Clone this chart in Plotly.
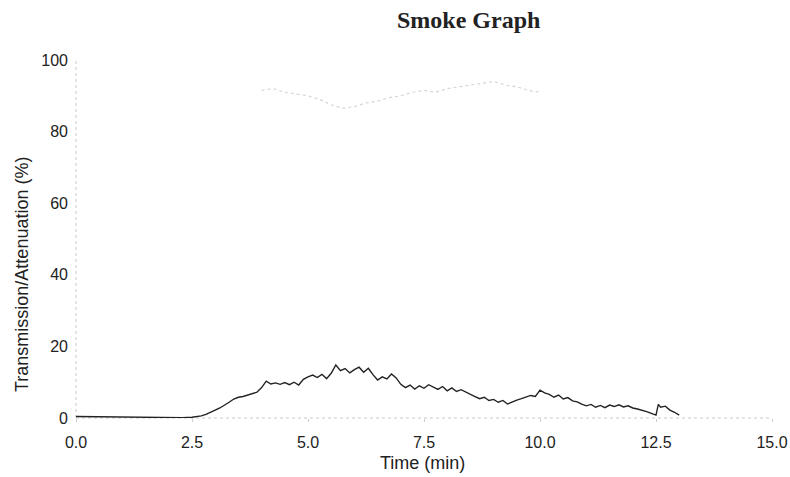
import plotly.graph_objects as go

# Attenuation (smoke) series
att_time = [0.0, 0.5, 1.0, 1.5, 2.0, 2.3,
            2.5, 2.6, 2.7, 2.8, 2.9, 3.0, 3.1, 3.2, 3.3, 3.4, 3.5, 3.6, 3.7, 3.8, 3.9,
            4.0, 4.1, 4.2, 4.3, 4.4, 4.5, 4.6, 4.7, 4.8, 4.9,
            5.0, 5.1, 5.2, 5.3, 5.4, 5.5, 5.6, 5.7, 5.8, 5.9,
            6.0, 6.1, 6.2, 6.3, 6.4, 6.5, 6.6, 6.7, 6.8, 6.9,
            7.0, 7.1, 7.2, 7.3, 7.4, 7.5, 7.6, 7.7, 7.8, 7.9,
            8.0, 8.1, 8.2, 8.3, 8.4, 8.5, 8.6, 8.7, 8.8, 8.9,
            9.0, 9.1, 9.2, 9.3, 9.4, 9.5, 9.6, 9.7, 9.8, 9.9,
            10.0, 10.1, 10.2, 10.3, 10.4, 10.5, 10.6, 10.7, 10.8, 10.9,
            11.0, 11.1, 11.2, 11.3, 11.4, 11.5, 11.6, 11.7, 11.8, 11.9,
            12.0, 12.1, 12.2, 12.3, 12.4, 12.5, 12.55, 12.6, 12.7, 12.8, 12.9, 13.0]
att_value = [0.4, 0.3, 0.2, 0.2, 0.1, 0.1,
             0.2, 0.3, 0.6, 1.0, 1.5, 2.2, 2.8, 3.5, 4.4, 5.3, 5.8, 6.0, 6.4, 7.0, 7.2,
             8.5, 10.3, 9.5, 9.8, 9.4, 9.9, 9.3, 10.0, 9.2, 10.8,
             11.5, 12.0, 11.3, 12.2, 11.0, 12.5, 14.8, 13.2, 13.8, 12.6,
             13.5, 14.2, 12.8, 13.9, 12.1, 10.6, 11.5, 10.9, 12.3, 11.2,
             9.4, 8.5, 9.2, 8.1, 9.0, 8.3, 9.3, 8.6, 8.0, 8.8,
             7.6, 8.4, 7.4, 7.9, 7.2, 6.6, 6.0, 5.4, 5.8, 4.9,
             5.2, 4.4, 4.9, 3.9, 4.5, 5.0, 5.4, 5.9, 6.3, 6.0,
             7.8, 7.0, 6.6, 5.8, 6.4, 5.3, 5.7, 4.8, 4.5, 3.9,
             3.4, 3.8, 3.0, 3.5, 2.9, 3.6, 3.2, 3.7, 3.1, 3.4,
             2.8, 2.5, 2.2, 1.8, 1.3, 0.8, 3.8, 3.0, 3.3, 2.2, 1.6, 0.8]

# Transmission series (very faint dotted line near the top)
trans_time = [4.0, 4.25, 4.5, 4.75, 5.0, 5.25, 5.5, 5.75, 6.0, 6.25, 6.5,
              6.75, 7.0, 7.25, 7.5, 7.75, 8.0, 8.25, 8.5, 8.75, 9.0, 9.25, 9.5, 9.75, 10.0]
trans_value = [91.5, 92.0, 91.0, 90.5, 90.0, 89.0, 87.5, 86.5, 87.0, 88.0, 88.5,
               89.5, 90.0, 91.0, 91.5, 91.0, 92.0, 92.5, 93.0, 93.5, 94.0, 93.0, 92.5, 91.5, 91.0]

x_ticks = [0.0, 2.5, 5.0, 7.5, 10.0, 12.5, 15.0]
x_tick_labels = ["0.0", "2.5", "5.0", "7.5", "10.0", "12.5", "15.0"]
y_ticks = [0, 20, 40, 60, 80, 100]
y_tick_labels = ["0", "20", "40", "60", "80", "100"]

L, R, T, B = 76, 18, 60, 59
W, H = 790, 477
PW, PH = W - L - R, H - T - B

fig = go.Figure()
fig.add_trace(go.Scatter(x=trans_time, y=trans_value, mode="lines",
                         line=dict(color="#d6d6d6", width=1.2, dash="dot"),
                         showlegend=False, hoverinfo="skip"))
fig.add_trace(go.Scatter(x=att_time, y=att_value, mode="lines",
                         line=dict(color="#222222", width=1.4),
                         showlegend=False))

axis_font = dict(family="Liberation Sans, Arial, sans-serif", size=16, color="#222222")

fig.update_layout(
    width=W, height=H,
    margin=dict(l=L, r=R, t=T, b=B),
    paper_bgcolor="white", plot_bgcolor="white",
    xaxis=dict(range=[0, 15], tickvals=x_ticks, ticktext=x_tick_labels,
               showgrid=False, zeroline=False, showline=False, automargin=False,
               ticks="outside", ticklen=3, tickcolor="#cccccc",
               tickfont=axis_font, ticklabelstandoff=7, ticklabeloverflow="allow"),
    yaxis=dict(range=[0, 100], tickvals=y_ticks, ticktext=y_tick_labels,
               showgrid=False, zeroline=False, showline=False, automargin=False,
               ticks="", tickfont=axis_font, ticklabelstandoff=7, ticklabeloverflow="allow"),
    shapes=[
        dict(type="line", xref="paper", yref="paper", x0=0, x1=0, y0=0, y1=1,
             line=dict(color="#c8c8c8", width=1, dash="dot"), layer="below"),
        dict(type="line", xref="paper", yref="paper", x0=0, x1=1, y0=0, y1=0,
             line=dict(color="#c8c8c8", width=1, dash="dot"), layer="below"),
    ],
    annotations=[
        dict(text="<b>Smoke Graph</b>", xref="paper", yref="paper",
             x=(468 - L) / PW, y=1 + (T - 20) / PH, xanchor="center", yanchor="middle",
             showarrow=False,
             font=dict(family="Liberation Serif, Times New Roman, serif", size=24, color="#222222")),
        dict(text="Time (min)", xref="paper", yref="paper",
             x=(422 - L) / PW, y=-(463 - (H - B)) / PH, xanchor="center", yanchor="middle",
             showarrow=False,
             font=dict(family="Liberation Sans, Arial, sans-serif", size=18, color="#222222")),
        dict(text="Transmission/Attenuation (%)", xref="paper", yref="paper",
             x=-(L - 22) / PW, y=((H - B) - 275) / PH, xanchor="center", yanchor="middle",
             textangle=-90, showarrow=False,
             font=dict(family="Liberation Sans, Arial, sans-serif", size=18, color="#222222")),
    ],
)

fig.write_html("out.html", config={"displayModeBar": False},
               post_script="document.body.style.margin='0';")
